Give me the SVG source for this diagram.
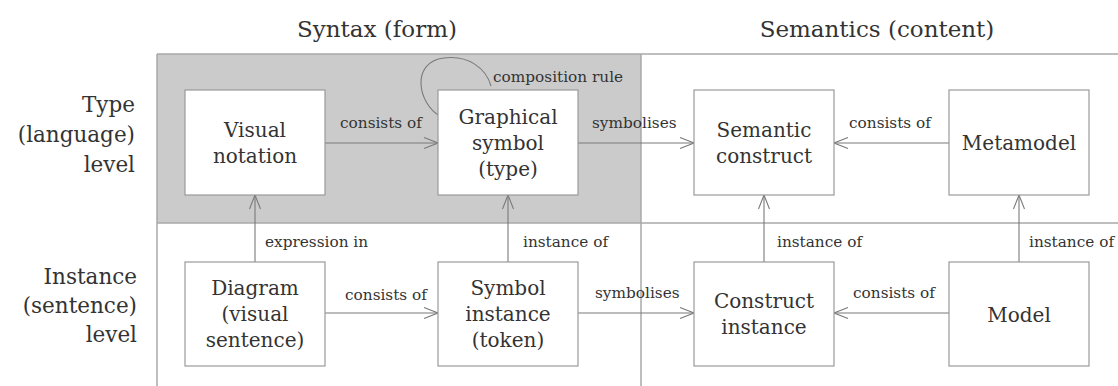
<svg xmlns="http://www.w3.org/2000/svg" width="1118" height="386" viewBox="0 0 1118 386">
  <style>
    .grid { stroke: #a9a9a9; stroke-width: 1.5; fill: none; }
    .box { fill: #ffffff; stroke: #9a9a9a; stroke-width: 1.2; }
    .node { font-family: "DejaVu Serif", "Liberation Serif", serif; font-size: 20px; fill: #333333; text-anchor: middle; }
    .head { font-family: "DejaVu Serif", "Liberation Serif", serif; font-size: 23px; fill: #333333; text-anchor: middle; }
    .side { font-family: "DejaVu Serif", "Liberation Serif", serif; font-size: 21.5px; fill: #333333; text-anchor: end; }
    .lbl { font-family: "DejaVu Serif", "Liberation Serif", serif; font-size: 15.3px; fill: #333333; }
    .edge { stroke: #7a7a7a; stroke-width: 1.1; fill: none; marker-end: url(#open); }
  </style>
  <defs>
    <marker id="open" viewBox="0 0 16 12" refX="15" refY="6" markerWidth="16" markerHeight="12" markerUnits="userSpaceOnUse" orient="auto">
      <path d="M1,0.5 L15,6 L1,11.5" fill="none" stroke="#7a7a7a" stroke-width="1.1"/>
    </marker>
  </defs>

  <rect width="1118" height="386" fill="#ffffff"/>

  <!-- column and row headings -->
  <g id="headings">
    <text class="head" x="377" y="37">Syntax (form)</text>
    <text class="head" x="877" y="37">Semantics (content)</text>
    <text class="side" x="135" y="112">Type</text>
    <text class="side" x="135" y="142">(language)</text>
    <text class="side" x="135" y="172">level</text>
    <text class="side" x="137" y="284">Instance</text>
    <text class="side" x="137" y="313">(sentence)</text>
    <text class="side" x="137" y="342">level</text>
  </g>

  <!-- quadrant grid; the syntax/type quadrant is shaded -->
  <g id="grid">
    <rect x="157" y="54" width="484" height="169" fill="#cbcbcb"/>
    <line class="grid" x1="157" y1="54" x2="1118" y2="54"/>
    <line class="grid" x1="157" y1="223" x2="1118" y2="223"/>
    <line class="grid" x1="157" y1="54" x2="157" y2="386"/>
    <line class="grid" x1="641" y1="54" x2="641" y2="386"/>
  </g>

  <!-- connectors -->
  <g id="connectors">
    <path class="edge" d="M325,143 H438"/>
    <path class="edge" d="M578,143 H694"/>
    <path class="edge" d="M949,143 H834"/>
    <path class="edge" d="M255,262 V195"/>
    <path class="edge" d="M508,262 V195"/>
    <path class="edge" d="M764,262 V195"/>
    <path class="edge" d="M1019,262 V195"/>
    <path class="edge" d="M325,313 H438"/>
    <path class="edge" d="M578,313 H694"/>
    <path class="edge" d="M949,313 H834"/>
    <path d="M440,116 C418,104 410,62 444,58 C468,55 486,68 491,86" fill="none" stroke="#7a7a7a" stroke-width="1.1"/>

    <text class="lbl" x="340" y="128">consists of</text>
    <text class="lbl" x="592" y="128">symbolises</text>
    <text class="lbl" x="849" y="128">consists of</text>
    <text class="lbl" x="493" y="82">composition rule</text>
    <text class="lbl" x="265" y="247">expression in</text>
    <text class="lbl" x="523" y="247">instance of</text>
    <text class="lbl" x="777" y="247">instance of</text>
    <text class="lbl" x="1029" y="247">instance of</text>
    <text class="lbl" x="345" y="300">consists of</text>
    <text class="lbl" x="595" y="298">symbolises</text>
    <text class="lbl" x="853" y="298">consists of</text>
  </g>

  <!-- nodes -->
  <g id="visual-notation">
    <rect class="box" x="185" y="90" width="140" height="105"/>
    <text class="node" x="255" y="137">Visual</text>
    <text class="node" x="255" y="163">notation</text>
  </g>
  <g id="graphical-symbol">
    <rect class="box" x="438" y="90" width="140" height="105"/>
    <text class="node" x="508" y="124">Graphical</text>
    <text class="node" x="508" y="150">symbol</text>
    <text class="node" x="508" y="176">(type)</text>
  </g>
  <g id="semantic-construct">
    <rect class="box" x="694" y="90" width="140" height="105"/>
    <text class="node" x="764" y="137">Semantic</text>
    <text class="node" x="764" y="163">construct</text>
  </g>
  <g id="metamodel">
    <rect class="box" x="949" y="90" width="140" height="105"/>
    <text class="node" x="1019" y="150">Metamodel</text>
  </g>
  <g id="diagram">
    <rect class="box" x="185" y="262" width="140" height="104"/>
    <text class="node" x="255" y="295">Diagram</text>
    <text class="node" x="255" y="321">(visual</text>
    <text class="node" x="255" y="347">sentence)</text>
  </g>
  <g id="symbol-instance">
    <rect class="box" x="438" y="262" width="140" height="104"/>
    <text class="node" x="508" y="295">Symbol</text>
    <text class="node" x="508" y="321">instance</text>
    <text class="node" x="508" y="347">(token)</text>
  </g>
  <g id="construct-instance">
    <rect class="box" x="694" y="262" width="140" height="104"/>
    <text class="node" x="764" y="308">Construct</text>
    <text class="node" x="764" y="334">instance</text>
  </g>
  <g id="model">
    <rect class="box" x="949" y="262" width="140" height="104"/>
    <text class="node" x="1019" y="322">Model</text>
  </g>
</svg>
